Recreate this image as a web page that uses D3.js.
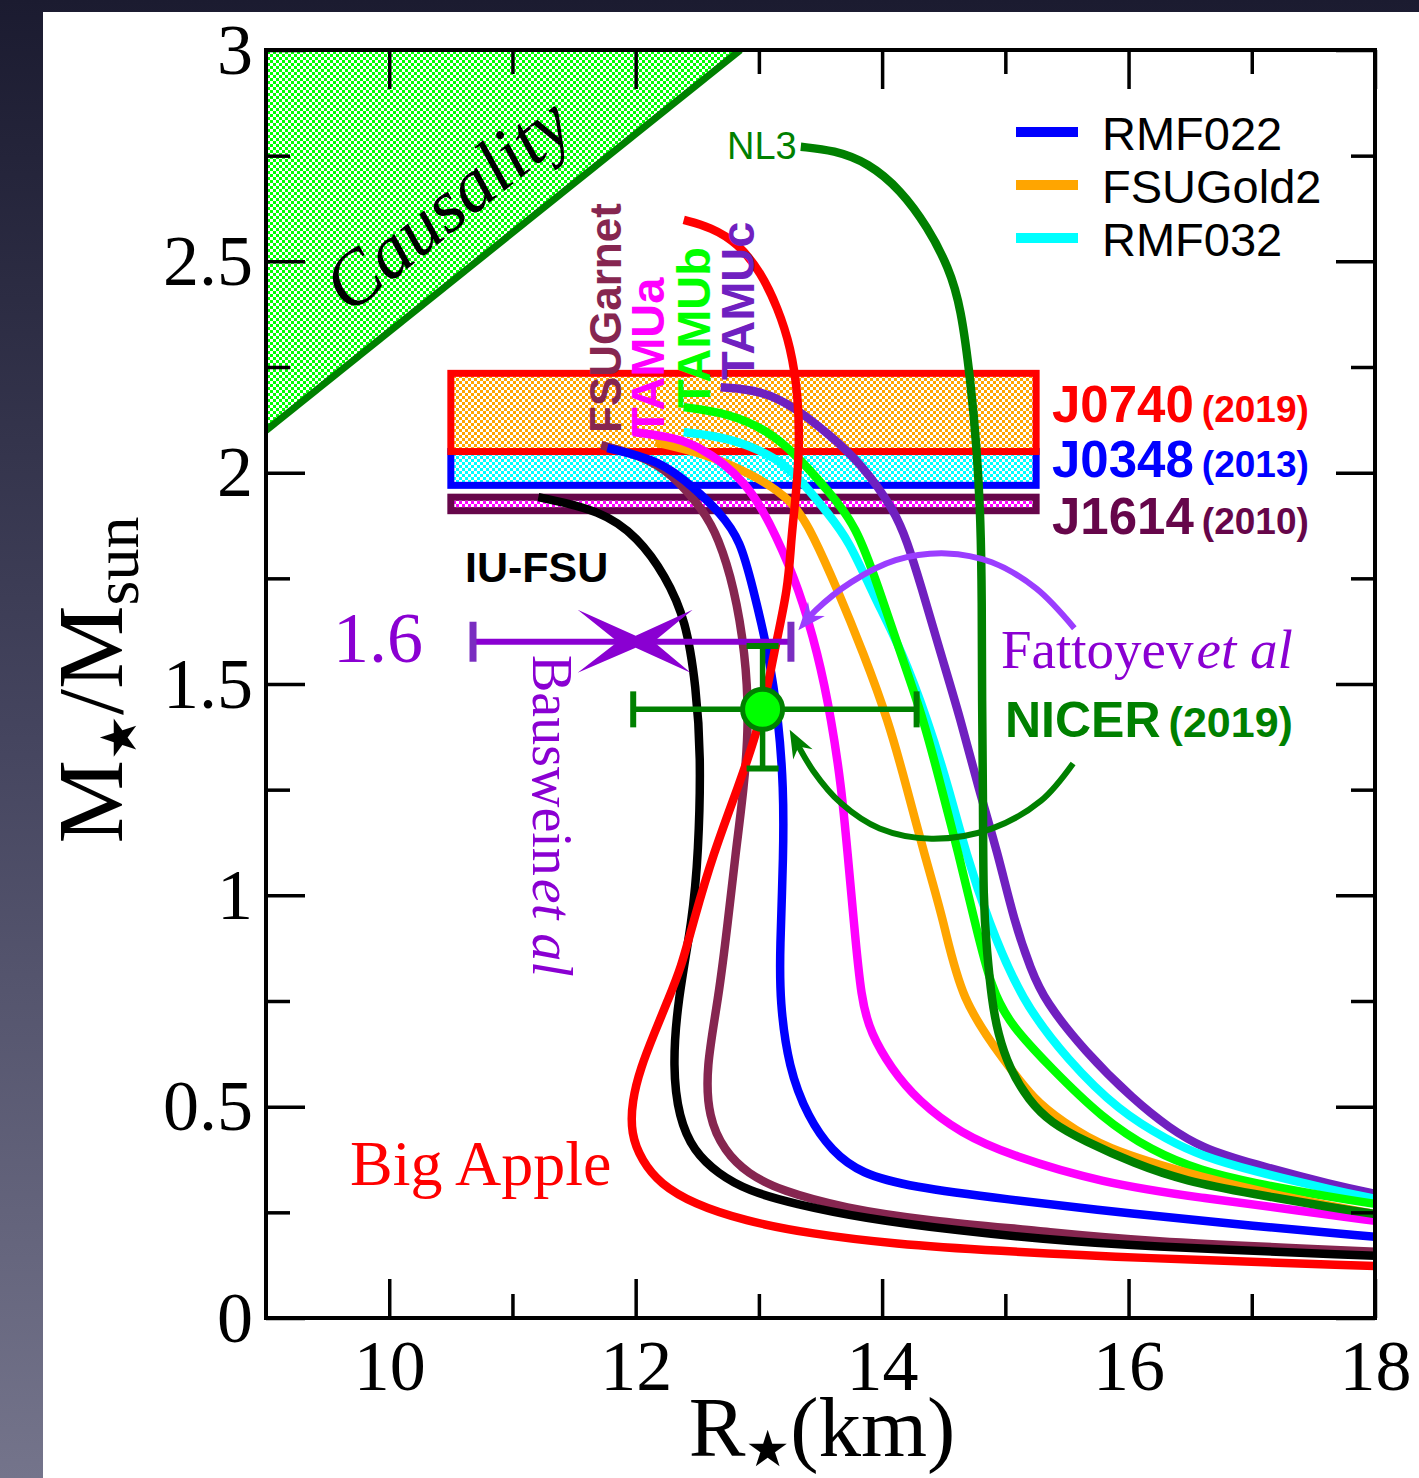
<!DOCTYPE html>
<html>
<head>
<meta charset="utf-8">
<script src="https://cdn.jsdelivr.net/npm/d3@7/dist/d3.min.js"></script>
<style>
  html, body { margin: 0; padding: 0; background: #fff; }
  svg { display: block; }
</style>
</head>
<body>
<svg id="chart" width="1419" height="1478"></svg>
<script>
// ---------- Mass–radius relations: [radius (km), mass (M_sun)] ----------
const bigApple = [[12.39,2.598],[12.61,2.581],[12.83,2.543],[13.02,2.472],[13.15,2.392],[13.26,2.297],[13.32,2.179],[13.33,2.060],[13.30,1.942],[13.26,1.840],[13.24,1.729],[13.12,1.572],[13.02,1.414],[12.83,1.255],[12.63,1.099],[12.47,0.940],[12.37,0.829],[12.26,0.751],[12.15,0.673],[12.04,0.592],[11.97,0.514],[11.96,0.436],[12.05,0.372],[12.20,0.317],[12.47,0.270],[12.88,0.230],[13.42,0.199],[14.10,0.175],[14.91,0.159],[16.05,0.142],[18.0,0.123]];
const iuFsu = [[11.21,1.942],[11.72,1.911],[12.02,1.847],[12.24,1.757],[12.41,1.650],[12.49,1.492],[12.53,1.336],[12.51,1.099],[12.46,0.940],[12.34,0.751],[12.30,0.592],[12.35,0.474],[12.47,0.395],[12.67,0.341],[12.91,0.301],[13.29,0.270],[13.83,0.237],[14.64,0.206],[15.29,0.187],[16.05,0.170],[18.0,0.147]];
const fsuGarnet = [[11.72,2.065],[12.04,2.041],[12.29,1.999],[12.55,1.911],[12.67,1.847],[12.80,1.729],[12.89,1.572],[12.92,1.414],[12.88,1.255],[12.81,1.099],[12.75,0.940],[12.67,0.751],[12.57,0.592],[12.59,0.474],[12.72,0.395],[12.91,0.341],[13.18,0.301],[13.69,0.260],[14.37,0.230],[15.29,0.206],[16.05,0.182],[18.0,0.157]];
const rmf022 = [[11.77,2.058],[12.20,2.029],[12.47,1.965],[12.69,1.904],[12.85,1.840],[12.95,1.729],[13.08,1.572],[13.16,1.414],[13.20,1.255],[13.20,1.099],[13.17,0.869],[13.17,0.751],[13.24,0.592],[13.40,0.474],[13.59,0.395],[13.83,0.341],[14.24,0.310],[14.97,0.282],[16.05,0.246],[17.0,0.218],[18.0,0.192]];
const tamua = [[11.98,2.096],[12.24,2.086],[12.47,2.072],[12.91,1.982],[13.15,1.845],[13.32,1.729],[13.48,1.572],[13.59,1.414],[13.67,1.255],[13.72,1.099],[13.77,0.940],[13.83,0.751],[13.91,0.673],[14.07,0.592],[14.29,0.514],[14.64,0.436],[15.05,0.384],[15.78,0.320],[16.59,0.284],[17.41,0.253],[18.0,0.230]];
const fsuGold2 = [[12.16,2.072],[12.55,2.046],[12.93,1.999],[13.28,1.935],[13.44,1.852],[13.63,1.729],[13.85,1.572],[14.05,1.414],[14.20,1.255],[14.34,1.099],[14.50,0.940],[14.64,0.751],[14.99,0.609],[15.24,0.514],[15.46,0.466],[15.78,0.403],[16.59,0.332],[17.41,0.277],[18.0,0.246]];
const rmf032 = [[12.39,2.096],[12.75,2.084],[13.15,2.036],[13.34,1.982],[13.56,1.904],[13.73,1.840],[13.93,1.710],[14.16,1.579],[14.37,1.414],[14.54,1.255],[14.68,1.099],[14.86,0.940],[15.13,0.751],[15.51,0.609],[15.92,0.490],[16.33,0.419],[16.59,0.384],[17.0,0.348],[17.68,0.301],[18.0,0.282]];
const tamub = [[12.39,2.155],[12.75,2.141],[13.07,2.100],[13.29,2.046],[13.56,1.958],[13.79,1.875],[13.97,1.729],[14.15,1.572],[14.34,1.414],[14.48,1.255],[14.62,1.099],[14.75,0.940],[14.89,0.774],[15.05,0.691],[15.37,0.592],[15.78,0.474],[16.19,0.395],[16.59,0.348],[17.0,0.320],[17.68,0.284],[18.0,0.270]];
const tamuc = [[12.69,2.202],[13.02,2.195],[13.29,2.155],[13.56,2.093],[13.83,2.022],[14.10,1.911],[14.20,1.840],[14.32,1.729],[14.46,1.587],[14.64,1.414],[14.78,1.255],[14.94,1.099],[15.07,0.940],[15.21,0.822],[15.32,0.751],[15.64,0.632],[16.05,0.514],[16.33,0.450],[16.59,0.403],[17.0,0.365],[17.68,0.313],[18.0,0.294]];
const nl3 = [[13.34,2.771],[13.61,2.763],[13.89,2.733],[14.15,2.669],[14.37,2.581],[14.54,2.486],[14.64,2.392],[14.72,2.212],[14.77,2.053],[14.80,1.887],[14.81,1.698],[14.81,1.461],[14.82,1.224],[14.82,0.987],[14.85,0.869],[14.89,0.751],[14.94,0.673],[15.03,0.592],[15.19,0.514],[15.37,0.462],[15.64,0.419],[16.05,0.365],[16.46,0.324],[17.0,0.294],[17.68,0.260],[18.0,0.246]];

// ---------- Causality limit ----------
const causalityEdge = [[9, 2.10], [12.85, 3.0]];

// ---------- Pulsar mass measurements ----------
const bandNames  = ["J0740", "J0348", "J1614"];
const bandYears  = ["(2019)", "(2013)", "(2010)"];
const bandLow    = [2.05, 1.97, 1.91];
const bandHigh   = [2.235, 2.05, 1.942];
const bandLabelM = [2.12, 1.99, 1.855];
const bandRadius = [10.5, 15.25];

// ---------- Radius constraints ----------
const nicerR = 13.03, nicerRLow = 11.98, nicerRHigh = 14.28;
const nicerM = 1.44,  nicerMLow = 1.30,  nicerMHigh = 1.59;
const bausweinR = 12.0, bausweinRLow = 10.68, bausweinRHigh = 13.26, bausweinM = 1.6;

// Annotation arcs (path to arrow tip)
const fattoyevArc = [[15.56,1.632],[15.25,1.726],[14.89,1.788],[14.52,1.809],[14.11,1.793],[13.75,1.741],[13.46,1.674],[13.32,1.627]];
const nicerArc    = [[15.55,1.312],[15.29,1.224],[14.89,1.158],[14.40,1.134],[13.98,1.158],[13.67,1.217],[13.44,1.295],[13.25,1.392]];

// ---------- Axis ticks ----------
const xMajorTicks = [10, 12, 14, 16, 18];
const xTickLabels = ["10", "12", "14", "16", "18"];
const xMinorTicks = [11, 13, 15, 17];
const yMajorTicks = [0, 0.5, 1, 1.5, 2, 2.5, 3];
const yTickLabels = ["0", "0.5", "1", "1.5", "2", "2.5", "3"];
const yMinorTicks = [0.25, 0.75, 1.25, 1.75, 2.25, 2.75];

// ---------- Legend ----------
const legendNames  = ["RMF022", "FSUGold2", "RMF032"];
const legendColors = ["#0000ff", "#ffa500", "#00ffff"];

const SERIF = "'Liberation Serif','Times New Roman',Times,serif";
const SANS  = "'Liberation Sans',Arial,Helvetica,sans-serif";
const STAR  = "'DejaVu Sans',sans-serif";
const W = 1419, H = 1478;

const svg = d3.select("#chart");
const defs = svg.append("defs");

// slide background
const bg = defs.append("linearGradient").attr("id", "bgGrad")
  .attr("x1", 0).attr("y1", 0).attr("x2", 0).attr("y2", 1);
bg.append("stop").attr("offset", 0).attr("stop-color", "#1b1b30");
bg.append("stop").attr("offset", 0.5).attr("stop-color", "#45455f");
bg.append("stop").attr("offset", 1).attr("stop-color", "#74748b");
svg.append("rect").attr("width", W).attr("height", H).attr("fill", "url(#bgGrad)");
svg.append("rect").attr("x", 43).attr("y", 12).attr("width", W - 43).attr("height", H - 12).attr("fill", "#fff");

// checkered fills
function checker(id, color) {
  const p = defs.append("pattern").attr("id", id)
    .attr("width", 6).attr("height", 6).attr("patternUnits", "userSpaceOnUse");
  p.append("rect").attr("width", 6).attr("height", 6).attr("fill", "#fff");
  p.append("rect").attr("width", 3).attr("height", 3).attr("fill", color);
  p.append("rect").attr("x", 3).attr("y", 3).attr("width", 3).attr("height", 3).attr("fill", color);
}
checker("chkGreen", "#00ff00");
checker("chkOrange", "#ffa500");
checker("chkCyan", "#00ffff");
checker("chkMagenta", "#ff00ff");

const x = d3.scaleLinear().domain([9, 18]).range([266, 1375]);
const y = d3.scaleLinear().domain([0, 3]).range([1318, 50]);

defs.append("clipPath").attr("id", "plotClip").append("rect")
  .attr("x", x(9)).attr("y", y(3)).attr("width", x(18) - x(9)).attr("height", y(0) - y(3));

const plot = svg.append("g").attr("clip-path", "url(#plotClip)");

// causality region
const causalPoly = [causalityEdge[0], causalityEdge[1], [9, 3]];
plot.append("path")
  .attr("d", "M" + causalPoly.map(d => [x(d[0]), y(d[1])].join(",")).join("L") + "Z")
  .attr("fill", "url(#chkGreen)");
plot.append("line")
  .attr("x1", x(causalityEdge[0][0])).attr("y1", y(causalityEdge[0][1]))
  .attr("x2", x(causalityEdge[1][0])).attr("y2", y(causalityEdge[1][1]))
  .attr("stroke", "#008000").attr("stroke-width", 7);
{
  const ang = Math.atan2(y(causalityEdge[1][1]) - y(causalityEdge[0][1]),
                         x(causalityEdge[1][0]) - x(causalityEdge[0][0])) * 180 / Math.PI;
  svg.append("text")
    .attr("transform", `translate(463,224) rotate(${ang})`)
    .attr("text-anchor", "middle")
    .attr("font-family", SERIF).attr("font-style", "italic").attr("font-size", 76)
    .attr("fill", "#000").text("Causality");
}

// pulsar mass bands (drawn bottom-up so the upper outline sits on top)
const bandFill   = ["url(#chkOrange)", "url(#chkCyan)", "url(#chkMagenta)"];
const bandStroke = ["#ff0000", "#0000ff", "#66064a"];
[2, 1, 0].forEach(i => {
  plot.append("rect")
    .attr("x", x(bandRadius[0])).attr("y", y(bandHigh[i]))
    .attr("width", x(bandRadius[1]) - x(bandRadius[0]))
    .attr("height", y(bandLow[i]) - y(bandHigh[i]))
    .attr("fill", bandFill[i]).attr("stroke", bandStroke[i]).attr("stroke-width", 7);
});
bandNames.forEach((nm, i) => {
  const t = svg.append("text")
    .attr("x", 1052).attr("y", y(bandLabelM[i]))
    .attr("font-family", SANS).attr("font-weight", "bold")
    .attr("fill", bandStroke[i]);
  t.append("tspan").attr("font-size", 51).text(nm);
  t.append("tspan").attr("font-size", 37).attr("dx", 8).text(bandYears[i]);
});

// mass–radius curves
const line = d3.line().x(d => x(d[0])).y(d => y(d[1])).curve(d3.curveBasis);
const curves = [
  { data: tamuc,     color: "#7020c0" },
  { data: rmf032,    color: "#00ffff" },
  { data: tamub,     color: "#00ff00" },
  { data: fsuGold2,  color: "#ffa500" },
  { data: tamua,     color: "#ff00ff" },
  { data: fsuGarnet, color: "#862650" },
  { data: rmf022,    color: "#0000ff" },
  { data: iuFsu,     color: "#000000" },
  { data: nl3,       color: "#008000" },
  { data: bigApple,  color: "#ff0000" }
];
plot.selectAll("path.mr").data(curves).enter().append("path")
  .attr("class", "mr")
  .attr("d", d => line(d.data))
  .attr("fill", "none").attr("stroke", d => d.color)
  .attr("stroke-width", 8.5).attr("stroke-linecap", "butt").attr("stroke-linejoin", "round");

// curve labels
const modelLabels = [
  { text: "FSUGarnet", color: "#862650", px: 621, py: 433, size: 44 },
  { text: "TAMUa",     color: "#ff00ff", px: 664, py: 436, size: 47 },
  { text: "TAMUb",     color: "#00ff00", px: 710, py: 408, size: 47 },
  { text: "TAMUc",     color: "#7020c0", px: 754, py: 380, size: 47 }
];
modelLabels.forEach(l => {
  svg.append("text").attr("transform", `translate(${l.px},${l.py}) rotate(-90)`)
    .attr("font-family", SANS).attr("font-weight", "bold").attr("font-size", l.size)
    .attr("fill", l.color).text(l.text);
});
svg.append("text").attr("x", 727).attr("y", 159)
  .attr("font-family", SANS).attr("font-size", 38).attr("fill", "#008000").text("NL3");
svg.append("text").attr("x", 465).attr("y", 582)
  .attr("font-family", SANS).attr("font-weight", "bold").attr("font-size", 43).attr("fill", "#000").text("IU-FSU");
svg.append("text").attr("x", 350).attr("y", 1185)
  .attr("font-family", SERIF).attr("font-size", 64).attr("fill", "#ff0000").text("Big Apple");

// annotation arcs with arrowheads
const arcLine = d3.line().x(d => x(d[0])).y(d => y(d[1])).curve(d3.curveCatmullRom.alpha(0.5));
function arrowArc(pts, color) {
  const path = svg.append("path").attr("d", arcLine(pts))
    .attr("fill", "none").attr("stroke", color).attr("stroke-width", 6);
  const node = path.node();
  const L = node.getTotalLength();
  path.attr("stroke-dasharray", `${L - 14} ${L}`);
  const tip = node.getPointAtLength(L);
  const back = node.getPointAtLength(L - 22);
  let ux = tip.x - back.x, uy = tip.y - back.y;
  const n = Math.hypot(ux, uy); ux /= n; uy /= n;
  const px = -uy, py = ux;
  const head = [
    [tip.x, tip.y],
    [tip.x - 28 * ux + 11 * px, tip.y - 28 * uy + 11 * py],
    [tip.x - 19 * ux, tip.y - 19 * uy],
    [tip.x - 28 * ux - 11 * px, tip.y - 28 * uy - 11 * py]
  ];
  svg.append("path").attr("d", "M" + head.map(p => p.join(",")).join("L") + "Z").attr("fill", color);
}
arrowArc(fattoyevArc, "#9b3dff");
arrowArc(nicerArc, "#008000");

// Bauswein et al. radius constraint
const bColor = "#8a00d2";
const bY = y(bausweinM);
svg.append("line").attr("x1", x(bausweinRLow)).attr("x2", x(bausweinRHigh))
  .attr("y1", bY).attr("y2", bY).attr("stroke", bColor).attr("stroke-width", 6);
[bausweinRLow, bausweinRHigh].forEach(r => {
  svg.append("line").attr("x1", x(r)).attr("x2", x(r)).attr("y1", bY - 20).attr("y2", bY + 20)
    .attr("stroke", "#7a2ec0").attr("stroke-width", 7);
});
{
  const cx = x(bausweinR), cy = bY;
  const star = [[-58,-32],[0,-6],[57,-32],[18,0],[55,31],[0,6],[-58,31],[-18,0]];
  svg.append("path").attr("d", "M" + star.map(p => [cx + p[0], cy + p[1]].join(",")).join("L") + "Z")
    .attr("fill", bColor);
}
svg.append("text").attr("x", 333).attr("y", 662)
  .attr("font-family", SERIF).attr("font-size", 72).attr("fill", bColor).text("1.6");
{
  const t = svg.append("text").attr("transform", "translate(533,655) rotate(90)")
    .attr("font-family", SERIF).attr("font-size", 56).attr("fill", bColor);
  t.append("tspan").text("Bauswein");
  t.append("tspan").attr("font-style", "italic").attr("dx", 3).text("et al");
}
{
  const t = svg.append("text").attr("x", 1001).attr("y", 668)
    .attr("font-family", SERIF).attr("font-size", 55).attr("fill", bColor);
  t.append("tspan").text("Fattoyev");
  t.append("tspan").attr("font-style", "italic").attr("dx", 3).text("et al");
}

// NICER measurement
const nColor = "#008000";
const nx = x(nicerR), ny = y(nicerM);
svg.append("line").attr("x1", x(nicerRLow)).attr("x2", x(nicerRHigh)).attr("y1", ny).attr("y2", ny)
  .attr("stroke", nColor).attr("stroke-width", 5.5);
[nicerRLow, nicerRHigh].forEach(r => {
  svg.append("line").attr("x1", x(r)).attr("x2", x(r)).attr("y1", ny - 18).attr("y2", ny + 18)
    .attr("stroke", nColor).attr("stroke-width", 6);
});
svg.append("line").attr("x1", nx).attr("x2", nx).attr("y1", y(nicerMHigh)).attr("y2", y(nicerMLow))
  .attr("stroke", nColor).attr("stroke-width", 5.5);
[nicerMLow, nicerMHigh].forEach(m => {
  svg.append("line").attr("x1", nx - 16).attr("x2", nx + 16).attr("y1", y(m)).attr("y2", y(m))
    .attr("stroke", nColor).attr("stroke-width", 6);
});
svg.append("circle").attr("cx", nx).attr("cy", ny).attr("r", 20)
  .attr("fill", "#00ff00").attr("stroke", nColor).attr("stroke-width", 5);
{
  const t = svg.append("text").attr("x", 1005).attr("y", 737)
    .attr("font-family", SANS).attr("font-weight", "bold").attr("fill", nColor);
  t.append("tspan").attr("font-size", 50).text("NICER");
  t.append("tspan").attr("font-size", 43).attr("dx", 8).text("(2019)");
}

// legend
legendNames.forEach((nm, i) => {
  const ly = 132 + i * 53;
  svg.append("line").attr("x1", 1016).attr("x2", 1078).attr("y1", ly).attr("y2", ly)
    .attr("stroke", legendColors[i]).attr("stroke-width", 10);
  svg.append("text").attr("x", 1102).attr("y", ly + 18)
    .attr("font-family", SANS).attr("font-size", 47).attr("fill", "#000").text(nm);
});

// axes
function styleAxis(g) {
  g.select(".domain").remove();
  g.selectAll(".tick line").attr("stroke", "#000").attr("stroke-width", 3.5);
  g.selectAll(".tick text").attr("font-family", SERIF).attr("font-size", 72).attr("fill", "#000");
}
svg.append("g").attr("transform", `translate(0,${y(0)})`)
  .call(d3.axisBottom(x).tickValues(xMajorTicks).tickFormat((d, i) => xTickLabels[i])
    .tickSizeInner(-39).tickSizeOuter(0).tickPadding(21)).call(styleAxis);
svg.append("g").attr("transform", `translate(0,${y(0)})`)
  .call(d3.axisBottom(x).tickValues(xMinorTicks).tickFormat("").tickSizeInner(-24).tickSizeOuter(0)).call(styleAxis);
svg.append("g").attr("transform", `translate(0,${y(3)})`)
  .call(d3.axisTop(x).tickValues(xMajorTicks).tickFormat("").tickSizeInner(-39).tickSizeOuter(0)).call(styleAxis);
svg.append("g").attr("transform", `translate(0,${y(3)})`)
  .call(d3.axisTop(x).tickValues(xMinorTicks).tickFormat("").tickSizeInner(-24).tickSizeOuter(0)).call(styleAxis);
svg.append("g").attr("transform", `translate(${x(9)},0)`)
  .call(d3.axisLeft(y).tickValues(yMajorTicks).tickFormat((d, i) => yTickLabels[i])
    .tickSizeInner(-39).tickSizeOuter(0).tickPadding(13)).call(styleAxis);
svg.append("g").attr("transform", `translate(${x(9)},0)`)
  .call(d3.axisLeft(y).tickValues(yMinorTicks).tickFormat("").tickSizeInner(-24).tickSizeOuter(0)).call(styleAxis);
svg.append("g").attr("transform", `translate(${x(18)},0)`)
  .call(d3.axisRight(y).tickValues(yMajorTicks).tickFormat("").tickSizeInner(-39).tickSizeOuter(0)).call(styleAxis);
svg.append("g").attr("transform", `translate(${x(18)},0)`)
  .call(d3.axisRight(y).tickValues(yMinorTicks).tickFormat("").tickSizeInner(-24).tickSizeOuter(0)).call(styleAxis);
svg.append("rect").attr("x", x(9)).attr("y", y(3)).attr("width", x(18) - x(9)).attr("height", y(0) - y(3))
  .attr("fill", "none").attr("stroke", "#000").attr("stroke-width", 4);

// axis titles
{
  const t = svg.append("text").attr("transform", "translate(822,1456)").attr("text-anchor", "middle")
    .attr("font-family", SERIF).attr("font-size", 85).attr("fill", "#000");
  t.append("tspan").text("R");
  t.append("tspan").attr("font-family", STAR).attr("font-size", 50).attr("dy", 10).text("\u2605");
  t.append("tspan").attr("dy", -10).text("(km)");
}
{
  const t = svg.append("text").attr("transform", "translate(122,680) rotate(-90)").attr("text-anchor", "middle")
    .attr("font-family", SERIF).attr("font-size", 94).attr("fill", "#000");
  t.append("tspan").text("M");
  t.append("tspan").attr("font-family", STAR).attr("font-size", 50).attr("dy", 14).text("\u2605");
  t.append("tspan").attr("dy", -14).text("/M");
  t.append("tspan").attr("font-size", 64).attr("dy", 16).text("sun");
}
</script>
</body>
</html>
